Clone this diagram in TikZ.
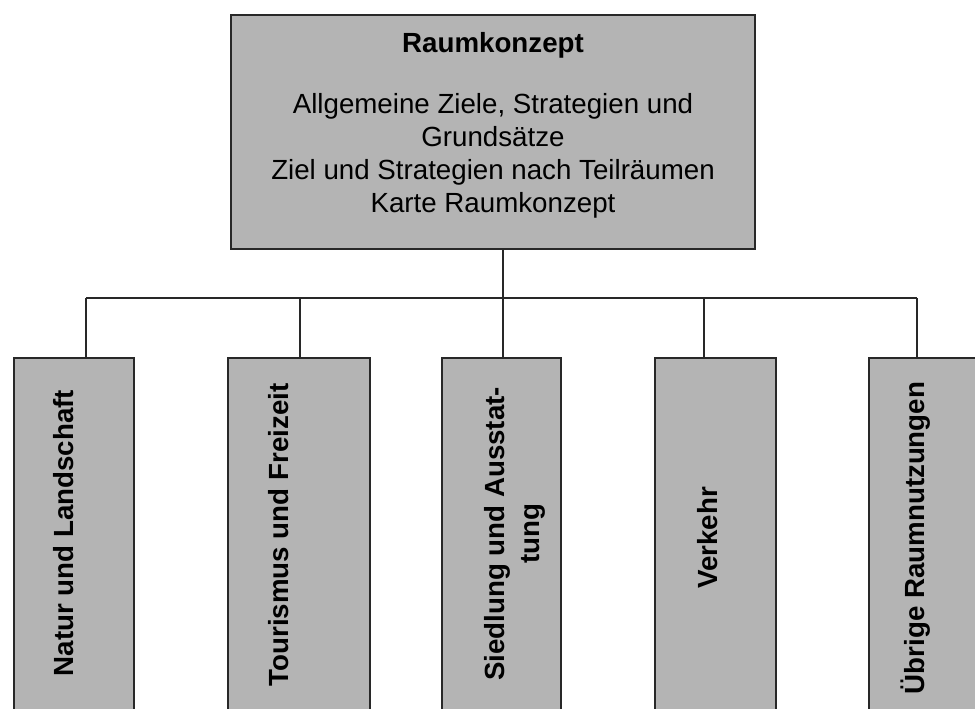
\documentclass[tikz,border=0pt]{standalone}
\usepackage{fontspec}
\setmainfont{Liberation Sans}
\definecolor{boxgray}{RGB}{180,180,180}
\definecolor{linegray}{RGB}{40,40,40}
\begin{document}
\begin{tikzpicture}[x=1pt,y=-1pt,
  box/.style={draw=linegray, line width=1.8pt, fill=boxgray, inner sep=0pt},
  link/.style={draw=linegray, line width=1.8pt},
  lbl/.style={font=\fontsize{27.7}{33}\selectfont\bfseries, rotate=90, inner sep=0pt, align=center},
  body/.style={font=\fontsize{27.7}{33}\selectfont, inner sep=0pt, align=center}]
\useasboundingbox (0,0) rectangle (975,709);
\clip (0,0) rectangle (975,709);
% boxes
\node[box, minimum width=524pt, minimum height=234pt] (top) at (493,132) {};
\node[box, minimum width=120pt, minimum height=354pt] (n1) at (74,535) {};
\node[box, minimum width=142pt, minimum height=354pt] (n2) at (299,535) {};
\node[box, minimum width=119pt, minimum height=354pt] (n3) at (501.5,535) {};
\node[box, minimum width=121pt, minimum height=354pt] (n4) at (715.5,535) {};
\node[box, minimum width=121pt, minimum height=354pt] (n5) at (929.5,535) {};
% connectors
\coordinate (bus) at (503,298);
\draw[link] ([xshift=10pt]top.south) -- ([xshift=10pt]top.south |- bus);
\draw[link] ([xshift=12pt]n1.north |- bus) -- ([xshift=-12.5pt]n5.north |- bus);
\draw[link] ([xshift=12pt]n1.north |- bus) -- ([xshift=12pt]n1.north);
\draw[link] ([xshift=1pt]n2.north |- bus) -- ([xshift=1pt]n2.north);
\draw[link] ([xshift=1.5pt]n3.north |- bus) -- ([xshift=1.5pt]n3.north);
\draw[link] ([xshift=-11.5pt]n4.north |- bus) -- ([xshift=-11.5pt]n4.north);
\draw[link] ([xshift=-12.5pt]n5.north |- bus) -- ([xshift=-12.5pt]n5.north);
% texts
\node[body, anchor=north] (toptext) at (493,32) {\textbf{Raumkonzept}\\[28pt]Allgemeine Ziele, Strategien und\\Grundsätze\\Ziel und Strategien nach Teilräumen\\Karte Raumkonzept};
\node[lbl] (t1) at (64,533) {Natur und Landschaft};
\node[lbl] (t2) at (279,535) {Tourismus und Freizeit};
\node[lbl, font=\fontsize{27.7}{35}\selectfont\bfseries] (t3) at (515,534) {Siedlung und Ausstat-\\tung};
\node[lbl] (t4) at (708,538) {Verkehr};
\node[lbl] (t5) at (916,538) {Übrige Raumnutzungen};
\end{tikzpicture}
\end{document}
